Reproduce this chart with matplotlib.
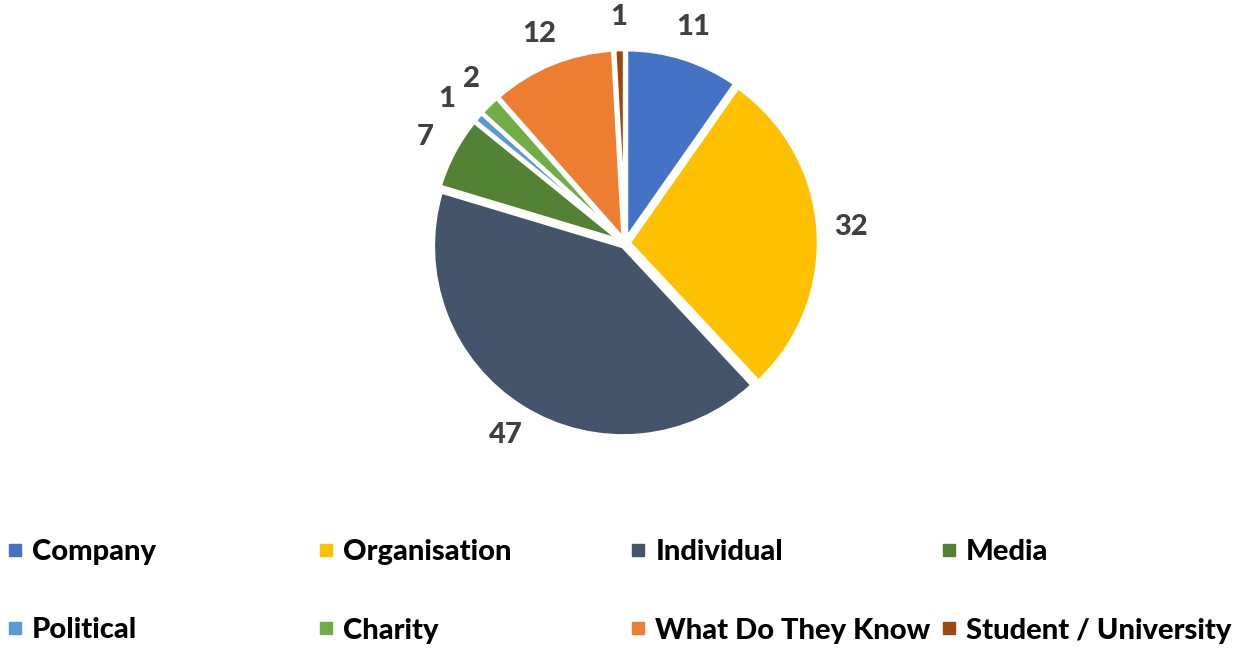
import matplotlib
matplotlib.use("Agg")
import matplotlib.pyplot as plt
from matplotlib.lines import Line2D
import numpy as np

categories = ["Company", "Organisation", "Individual", "Media",
              "Political", "Charity", "What Do They Know", "Student / University"]
counts = [11, 32, 47, 7, 1, 2, 12, 1]
colors = ["#4472C4", "#FFC000", "#44546A", "#548235",
          "#5B9BD5", "#70AD47", "#ED7D31", "#9E480E"]

FONT = ["Lato", "DejaVu Sans"]

W, H = 1248, 648
fig = plt.figure(figsize=(W / 100, H / 100), dpi=100)

# pie axes: centred at (625, 243) px, unit radius = 190 px
cx, cy, unit = 625, 243, 190
half = 250
ax = fig.add_axes([(cx - half) / W, (H - cy - half) / H, 2 * half / W, 2 * half / H])
ax.axis("off")

wedges, _ = ax.pie(counts, colors=colors, startangle=90, counterclock=False,
                   explode=[0.02] * len(counts), radius=1.0,
                   wedgeprops=dict(edgecolor="white", linewidth=3),
                   normalize=True, frame=False)
ax.set_aspect("equal")
ax.set_xlim(-half / unit, half / unit)
ax.set_ylim(-half / unit, half / unit)

# value labels just outside each slice; the two tiny neighbouring slices
# get their labels pushed apart a little (offsets in points)
nudge = {"Political": (-5, -2), "Charity": (4, 2)}
for w, v, name in zip(wedges, counts, categories):
    mid = np.deg2rad((w.theta1 + w.theta2) / 2)
    r = 1.19
    ax.annotate(str(v), xy=(r * np.cos(mid), r * np.sin(mid)),
                xytext=nudge.get(name, (0, 0)), textcoords="offset points",
                ha="center", va="center",
                fontsize=21, fontweight="black", color="#404040", family=FONT)

# legend: four equal-width columns, two rows
col_x = [6, 317, 629, 940]
for c in range(4):
    handles, labels = [], []
    for rr in range(2):
        i = rr * 4 + c
        handles.append(Line2D([], [], marker="s", linestyle="none",
                              markersize=9, markerfacecolor=colors[i],
                              markeredgecolor=colors[i]))
        labels.append(categories[i])
    fig.legend(handles, labels, loc="upper left",
               bbox_to_anchor=(col_x[c] / W, 1 - 539 / H),
               frameon=False, handlelength=0.6, handletextpad=0.3,
               borderaxespad=0, borderpad=0, labelspacing=1.8,
               prop=dict(family=FONT, weight="black", size=21))

fig.savefig("out.png", dpi=100, facecolor="white")
